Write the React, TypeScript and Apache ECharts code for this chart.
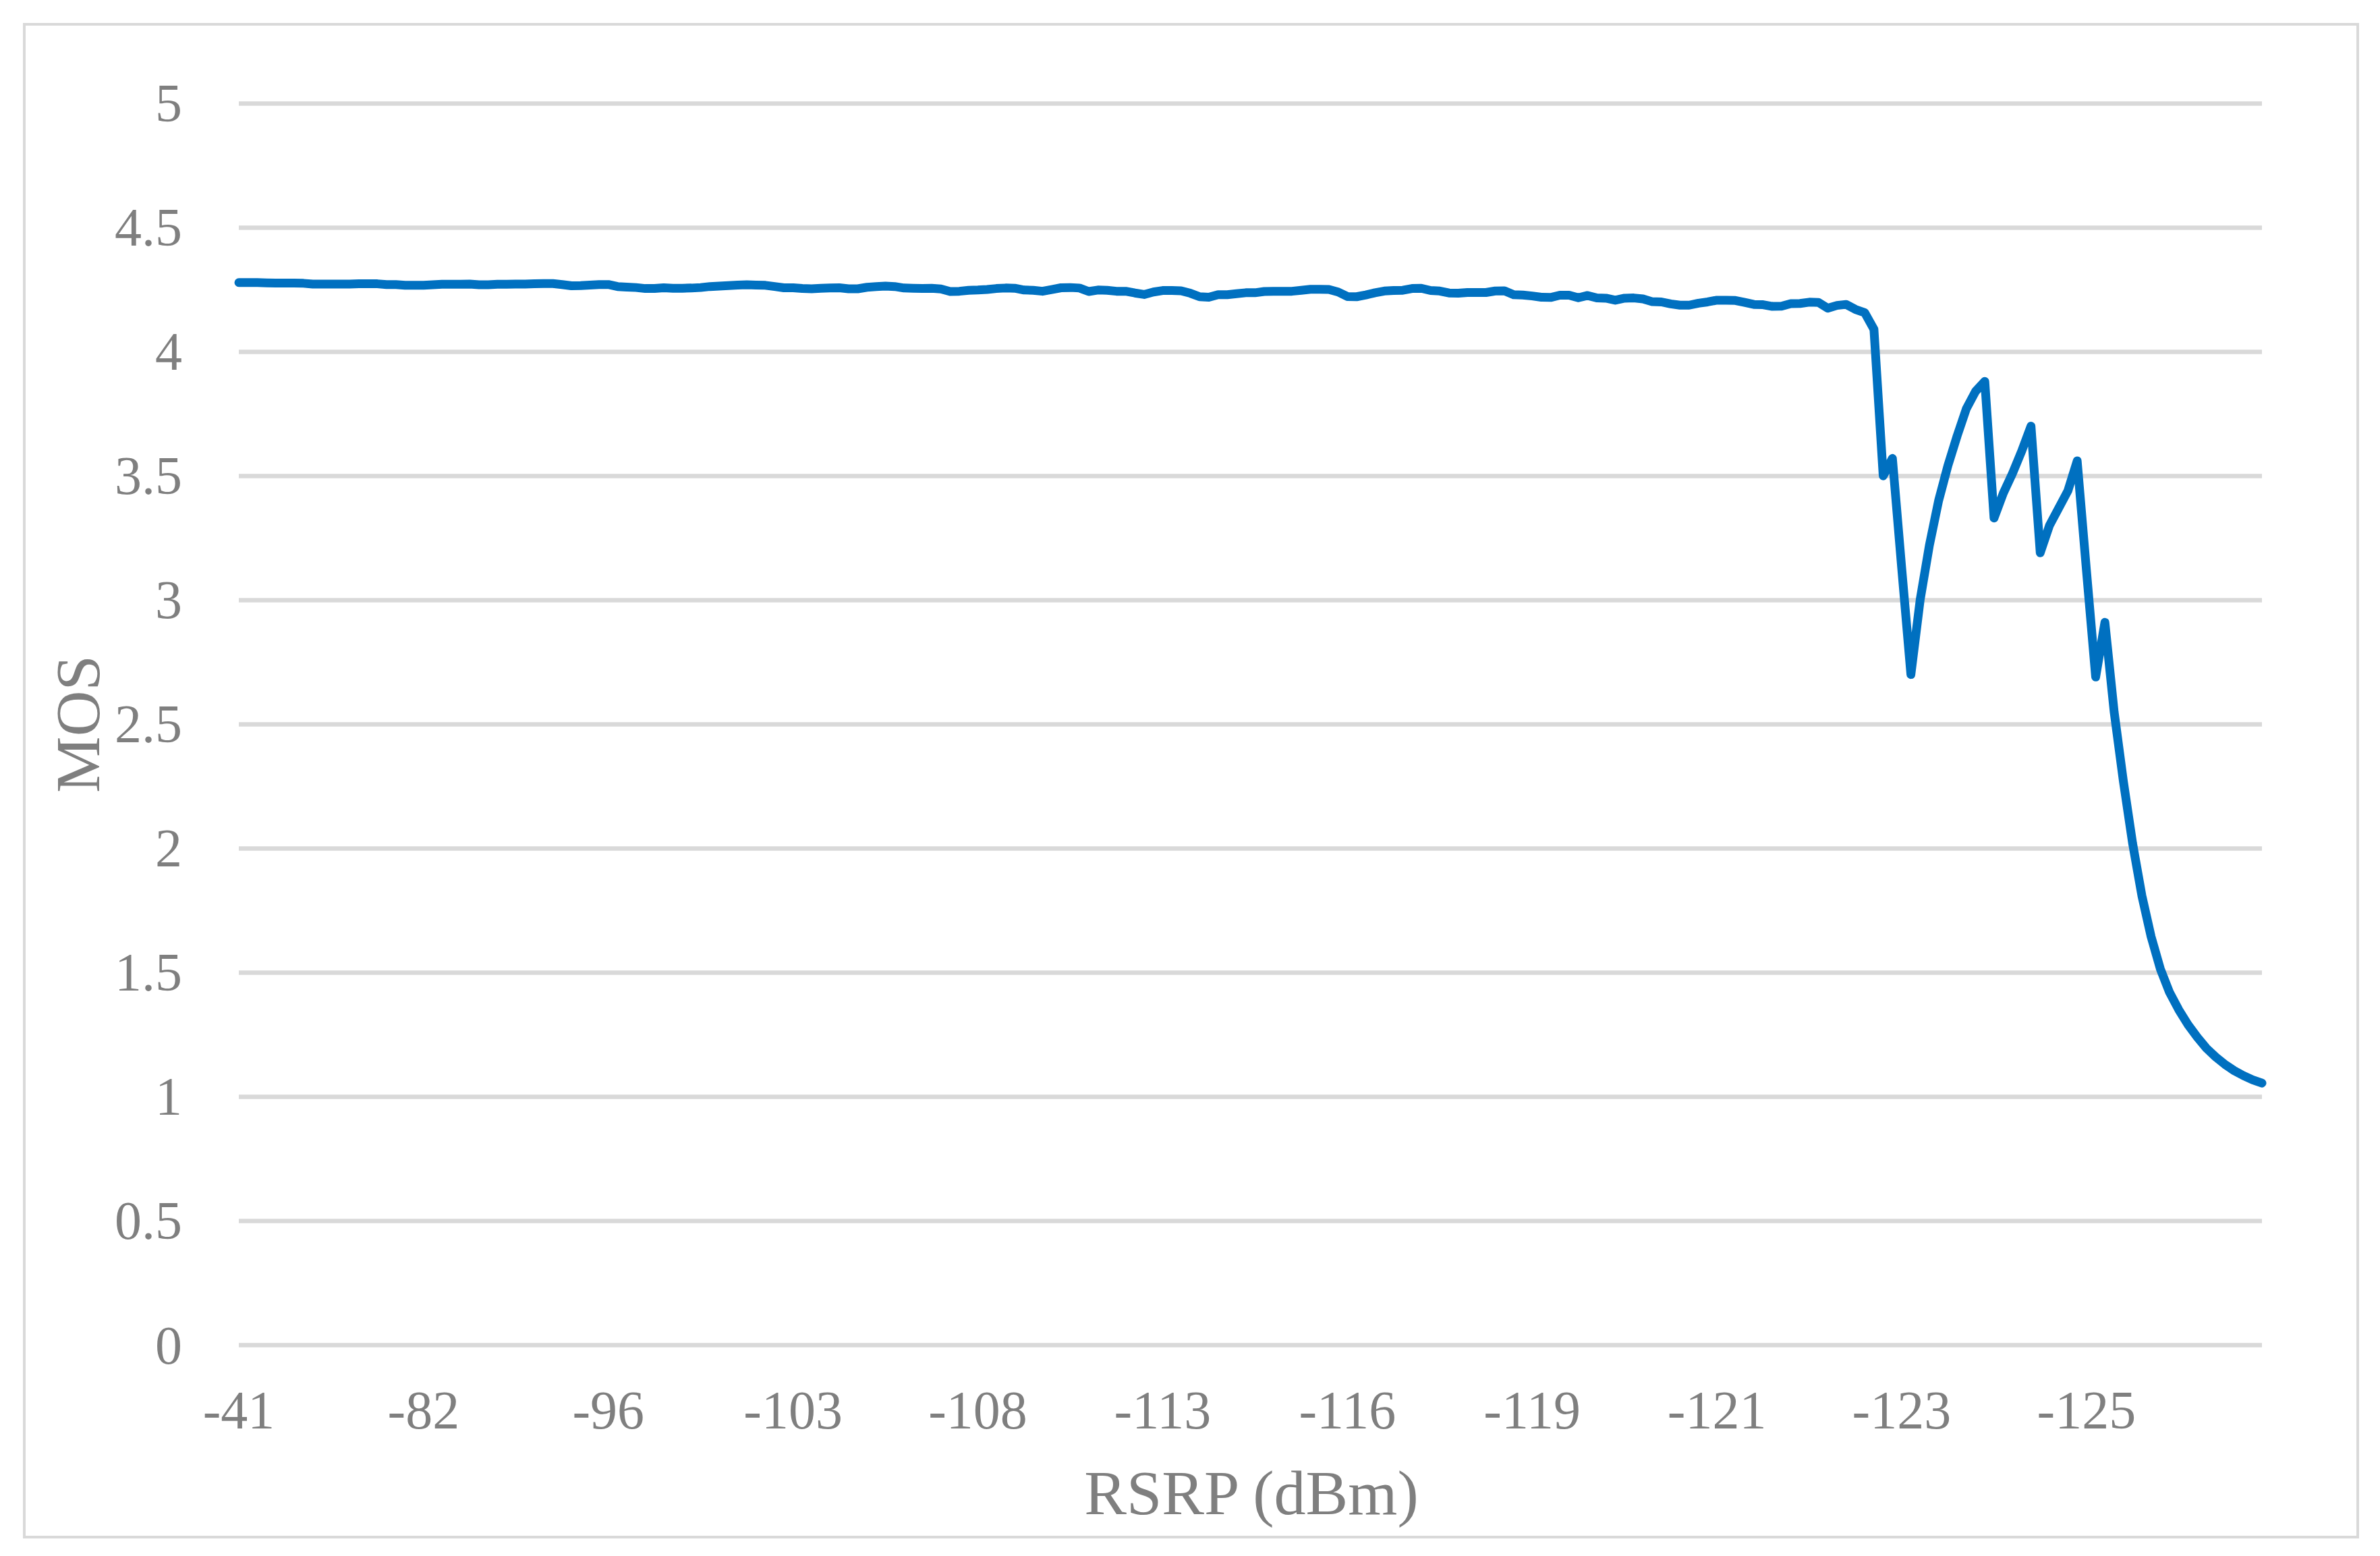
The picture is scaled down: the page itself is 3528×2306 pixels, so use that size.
import React, { useEffect, useRef } from "react";
import * as echarts from "echarts";

// X tick labels (RSRP, dBm), shown every 20th sample
const tickLabels: string[] = ["-41", "-82", "-96", "-103", "-108", "-113", "-116", "-119", "-121", "-123", "-125"];
const labelEvery = 20;

// MOS values (220 samples)
const mos0: number[] = [
  4.278, 4.278, 4.278, 4.277, 4.276, 4.276, 4.276, 4.275, 4.272, 4.272,
  4.272, 4.272, 4.272, 4.273, 4.273, 4.273, 4.270, 4.270, 4.267, 4.267,
  4.267, 4.269, 4.271, 4.271, 4.271, 4.272, 4.269, 4.269, 4.271, 4.271,
  4.272, 4.272, 4.273, 4.274, 4.274, 4.270, 4.265, 4.266, 4.268, 4.270,
  4.270, 4.262, 4.260, 4.258, 4.254, 4.254, 4.257, 4.255, 4.255, 4.256,
];
const mos1: number[] = [
  4.258, 4.262, 4.264, 4.266, 4.268, 4.269, 4.268, 4.267, 4.262, 4.257,
  4.257, 4.254, 4.253, 4.255, 4.256, 4.257, 4.253, 4.253, 4.259, 4.262,
  4.264, 4.262, 4.256, 4.255, 4.254, 4.255, 4.252, 4.242, 4.243, 4.247,
  4.248, 4.250, 4.254, 4.256, 4.255, 4.248, 4.247, 4.243, 4.250, 4.257,
  4.258, 4.256, 4.242, 4.248, 4.247, 4.243, 4.243, 4.236, 4.230, 4.240,
];
const mos2: number[] = [
  4.246, 4.246, 4.245, 4.235, 4.221, 4.219, 4.229, 4.229, 4.233, 4.237,
  4.237, 4.242, 4.243, 4.243, 4.243, 4.247, 4.251, 4.251, 4.250, 4.240,
  4.222, 4.221, 4.228, 4.237, 4.244, 4.246, 4.247, 4.254, 4.255, 4.246,
  4.244, 4.236, 4.235, 4.238, 4.238, 4.238, 4.244, 4.245, 4.229, 4.228,
  4.224, 4.219, 4.218, 4.227, 4.227, 4.217, 4.226, 4.216, 4.215, 4.207,
];
const mos3: number[] = [
  4.215, 4.216, 4.212, 4.201, 4.200, 4.192, 4.187, 4.187, 4.195, 4.200,
  4.207, 4.207, 4.206, 4.198, 4.190, 4.189, 4.182, 4.183, 4.193, 4.194,
  4.199, 4.198, 4.175, 4.186, 4.190, 4.170, 4.157, 4.090, 3.50, 3.57,
  3.13, 2.70, 3.00, 3.22, 3.40, 3.54, 3.66, 3.77, 3.84, 3.88,
  3.33, 3.43, 3.51, 3.60, 3.70, 3.19, 3.30, 3.37, 3.44, 3.56,
];
const mos4: number[] = [
  3.12, 2.69, 2.91, 2.55, 2.27, 2.02, 1.81, 1.645, 1.515, 1.42,
  1.35, 1.29, 1.24, 1.195, 1.16, 1.13, 1.105, 1.085, 1.068, 1.055,
];

const mosValues: number[] = [...mos0, ...mos1, ...mos2, ...mos3, ...mos4];
const categories: string[] = mosValues.map((_, i) =>
  i % labelEvery === 0 && tickLabels[i / labelEvery] !== undefined ? tickLabels[i / labelEvery] : String(i)
);

const yTicks = { min: 0, max: 5, interval: 0.5 };

const FONT = "'Liberation Serif', 'Times New Roman', serif";
const GRAY = "#7F7F7F";
const GRID = "#D9D9D9";

export default function App() {
  const ref = useRef<HTMLDivElement>(null);

  useEffect(() => {
    document.body.style.margin = "0";
    if (!ref.current) return;
    const chart = echarts.init(ref.current, undefined, { renderer: "svg" });
    chart.setOption({
      animation: false,
      backgroundColor: "#FFFFFF",
      grid: { left: 354, top: 153, width: 2999, height: 1840.5, containLabel: false },
      xAxis: {
        type: "category",
        data: categories,
        boundaryGap: false,
        axisLine: { show: false },
        axisTick: { show: false },
        splitLine: { show: false },
        axisLabel: {
          interval: labelEvery - 1,
          hideOverlap: false,
          margin: 56,
          fontSize: 80,
          lineHeight: 80,
          fontFamily: FONT,
          color: GRAY,
          formatter: (v: string, idx: number) =>
            idx % labelEvery === 0 && tickLabels[idx / labelEvery] !== undefined ? tickLabels[idx / labelEvery] : "",
        },
      },
      yAxis: {
        type: "value",
        min: yTicks.min,
        max: yTicks.max,
        interval: yTicks.interval,
        axisLine: { show: false },
        axisTick: { show: false },
        splitLine: { show: true, lineStyle: { color: GRID, width: 6.5 } },
        axisLabel: {
          margin: 84,
          fontSize: 80,
          fontFamily: FONT,
          color: GRAY,
        },
      },
      series: [
        {
          type: "line",
          data: mosValues,
          symbol: "none",
          smooth: false,
          lineStyle: { color: "#0070C0", width: 13, cap: "round", join: "round" },
          z: 3,
        },
      ],
      graphic: [
        {
          type: "rect",
          shape: { x: 36, y: 36, width: 3459, height: 2242 },
          style: { fill: "none", stroke: GRID, lineWidth: 4 },
          silent: true,
          z: -1,
        },
        {
          type: "text",
          x: 115,
          y: 1073,
          rotation: Math.PI / 2,
          style: {
            text: "MOS",
            fontSize: 94,
            fontFamily: FONT,
            fill: GRAY,
            textAlign: "center",
            textVerticalAlign: "middle",
          },
        },
        {
          type: "text",
          x: 1855,
          y: 2212,
          style: {
            text: "RSRP (dBm)",
            fontSize: 94,
            fontFamily: FONT,
            fill: GRAY,
            textAlign: "center",
            textVerticalAlign: "middle",
          },
        },
      ],
    });
    return () => chart.dispose();
  }, []);

  return <div ref={ref} style={{ width: 3528, height: 2306 }} />;
}
